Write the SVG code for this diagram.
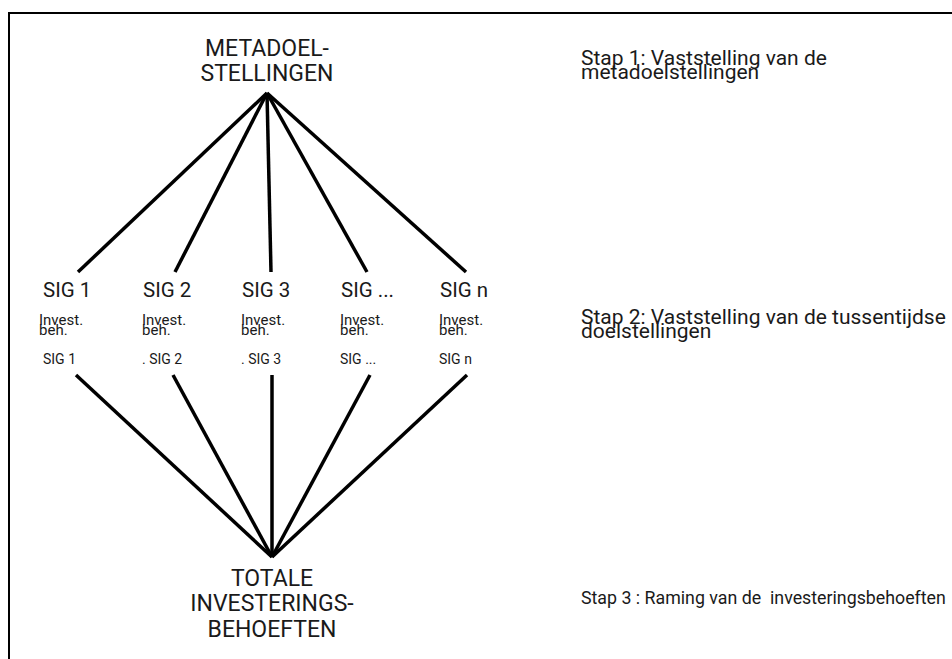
<svg xmlns="http://www.w3.org/2000/svg" width="952" height="659" viewBox="0 0 952 659">
<style>
text { font-family: Roboto, "Liberation Sans", sans-serif; fill: #1a1a1a; }
.big { font-size: 23px; text-anchor: middle; }
.sig { font-size: 20.5px; }
.inv { font-size: 15px; }
.sm { font-size: 14px; }
.stap { font-size: 21px; }
.stap3 { font-size: 17.8px; white-space: pre; }
.conn line { stroke: #000; stroke-width: 3.5; stroke-linecap: butt; }
</style>
<rect x="0" y="0" width="952" height="659" fill="#fff"/>
<path d="M9,659 V13 H952" fill="none" stroke="#000" stroke-width="2"/>

<g id="connectors" class="conn">
  <line x1="267" y1="93" x2="78" y2="272"/>
  <line x1="267" y1="93" x2="175" y2="272"/>
  <line x1="267" y1="93" x2="271" y2="272"/>
  <line x1="267" y1="93" x2="367" y2="272"/>
  <line x1="267" y1="93" x2="466" y2="272"/>
  <line x1="76" y1="375" x2="272" y2="557"/>
  <line x1="173" y1="375" x2="272" y2="557"/>
  <line x1="272" y1="375" x2="272" y2="557"/>
  <line x1="370" y1="375" x2="272" y2="557"/>
  <line x1="467" y1="375" x2="272" y2="557"/>
</g>

<g id="metadoelstellingen">
  <text class="big" x="267" y="56">METADOEL-</text>
  <text class="big" x="267" y="81">STELLINGEN</text>
</g>

<g id="sig1">
  <text class="sig" x="43" y="297">SIG 1</text>
  <text class="inv" x="39" y="325">Invest.</text>
  <text class="inv" x="39" y="335">beh.</text>
  <text class="sm" x="43" y="364">SIG 1</text>
</g>
<g id="sig2">
  <text class="sig" x="143" y="297">SIG 2</text>
  <text class="inv" x="142" y="325">Invest.</text>
  <text class="inv" x="142" y="335">beh.</text>
  <text class="sm" x="142" y="364">. SIG 2</text>
</g>
<g id="sig3">
  <text class="sig" x="242" y="297">SIG 3</text>
  <text class="inv" x="241" y="325">Invest.</text>
  <text class="inv" x="241" y="335">beh.</text>
  <text class="sm" x="241" y="364">. SIG 3</text>
</g>
<g id="sig4">
  <text class="sig" x="341" y="297">SIG ...</text>
  <text class="inv" x="340" y="325">Invest.</text>
  <text class="inv" x="340" y="335">beh.</text>
  <text class="sm" x="340" y="364">SIG ...</text>
</g>
<g id="sign">
  <text class="sig" x="440" y="297">SIG n</text>
  <text class="inv" x="439" y="325">Invest.</text>
  <text class="inv" x="439" y="335">beh.</text>
  <text class="sm" x="439" y="364">SIG n</text>
</g>

<g id="totale">
  <text class="big" x="272" y="586">TOTALE</text>
  <text class="big" x="272" y="611">INVESTERINGS-</text>
  <text class="big" x="272" y="637">BEHOEFTEN</text>
</g>

<g id="stappen">
  <text class="stap" x="581" y="65">Stap 1: Vaststelling van de</text>
  <text class="stap" x="581" y="79">metadoelstellingen</text>
  <text class="stap" x="581" y="324">Stap 2: Vaststelling van de tussentijdse</text>
  <text class="stap" x="581" y="338">doelstellingen</text>
  <text class="stap3" x="581" y="604">Stap 3 : Raming van de  investeringsbehoeften</text>
</g>
</svg>
